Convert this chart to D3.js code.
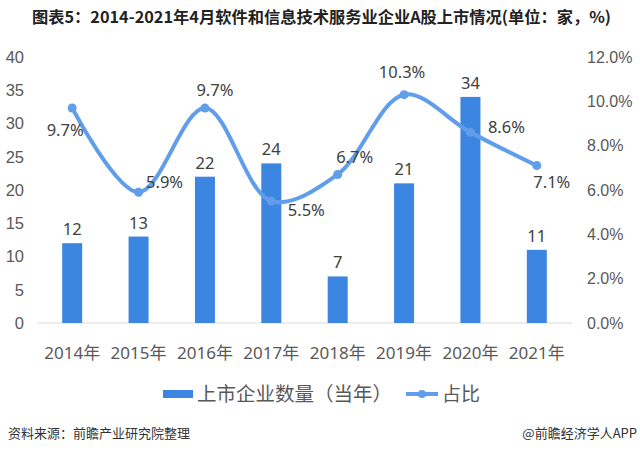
<!DOCTYPE html>
<html><head><meta charset="utf-8">
<script src="https://cdn.jsdelivr.net/npm/d3@7"></script>
<style>
body{margin:0;background:#fff;}
svg{display:block;font-family:"Noto Sans","Noto Sans CJK SC",sans-serif;}
</style></head>
<body><svg id="c" width="640" height="453"></svg>
<script>
const categories = ["2014年","2015年","2016年","2017年","2018年","2019年","2020年","2021年"];
const counts = [12, 13, 22, 24, 7, 21, 34, 11];
const shares = [9.7, 5.9, 9.7, 5.5, 6.7, 10.3, 8.6, 7.1];
const leftTicks = [0, 5, 10, 15, 20, 25, 30, 35, 40];
const rightTicks = [0, 2, 4, 6, 8, 10, 12];
const labelOffsets = [[-7,22],[26,-10],[10,-18],[35,9],[17,-17],[-2,-22],[36,-5],[15,17]];

const svg = d3.select("#c");
const barColor = "#3c85e0", lineColor = "#609dea", txt = "#404040", axisTxt = "#595959";

svg.append("text").attr("x", 32).attr("y", 23)
  .attr("font-family", "'Noto Sans CJK SC',sans-serif").attr("font-weight", "bold")
  .attr("font-size", 16).attr("fill", "#222")
  .attr("textLength", 579).attr("lengthAdjust", "spacingAndGlyphs")
  .text("图表5：2014-2021年4月软件和信息技术服务业企业A股上市情况(单位：家，%)");

const x = d3.scaleBand().domain(categories).range([39, 570]).padding(0);
const y = d3.scaleLinear().domain([0, 40]).range([323, 57]);
const y2 = d3.scaleLinear().domain([0, 12]).range([323, 57]);

// baseline
svg.append("line").attr("x1", 38).attr("x2", 572).attr("y1", y(0)).attr("y2", y(0))
  .attr("stroke", "#d9d9d9").attr("stroke-width", 1);

const left = svg.append("g").attr("transform", "translate(24,0)")
  .call(d3.axisLeft(y).tickValues(leftTicks).tickSize(0).tickPadding(0));
left.select(".domain").remove();
left.selectAll("text").attr("font-size", 16.5).attr("fill", axisTxt);

const right = svg.append("g").attr("transform", "translate(587,0)")
  .call(d3.axisRight(y2).tickValues(rightTicks).tickSize(0).tickPadding(0).tickFormat(d => d.toFixed(1) + "%"));
right.select(".domain").remove();
right.selectAll("text").attr("font-size", 16).attr("fill", axisTxt);

const bottom = svg.append("g").attr("transform", `translate(0,${y(0)})`)
  .call(d3.axisBottom(x).tickSize(0).tickPadding(24));
bottom.select(".domain").remove();
bottom.selectAll("text").attr("font-size", 17).attr("fill", axisTxt)
  .attr("font-family", "'Noto Sans','Noto Sans CJK SC',sans-serif");

const bw = 20;
const cx = d => x(d) + x.bandwidth() / 2;

svg.append("g").selectAll("rect").data(counts).join("rect")
  .attr("x", (d, i) => cx(categories[i]) - bw / 2)
  .attr("y", d => y(d)).attr("width", bw).attr("height", d => y(0) - y(d))
  .attr("fill", barColor);

svg.append("g").selectAll("text").data(counts).join("text")
  .attr("x", (d, i) => cx(categories[i])).attr("y", d => y(d) - 8)
  .attr("text-anchor", "middle").attr("font-size", 16.5).attr("fill", txt)
  .text(d => d);

const line = d3.line().x((d, i) => cx(categories[i])).y(d => y2(d)).curve(d3.curveCatmullRom.alpha(0.5));
svg.append("path").datum(shares).attr("d", line).attr("fill", "none")
  .attr("stroke", lineColor).attr("stroke-width", 4).attr("stroke-linecap", "round");

svg.append("g").selectAll("circle").data(shares).join("circle")
  .attr("cx", (d, i) => cx(categories[i])).attr("cy", d => y2(d)).attr("r", 4.5)
  .attr("fill", lineColor);

svg.append("g").selectAll("text").data(shares).join("text")
  .attr("x", (d, i) => cx(categories[i]) + labelOffsets[i][0])
  .attr("y", (d, i) => y2(d) + labelOffsets[i][1])
  .attr("dy", "0.35em").attr("text-anchor", "middle").attr("font-size", 16.5).attr("fill", txt)
  .text(d => d.toFixed(1) + "%");

// legend
const lg = svg.append("g");
lg.append("rect").attr("x", 163).attr("y", 390).attr("width", 30).attr("height", 8).attr("fill", barColor);
lg.append("text").attr("x", 197).attr("y", 394).attr("dy", "0.36em").attr("font-size", 19.5)
  .attr("fill", axisTxt).attr("font-family", "'Noto Sans CJK SC',sans-serif").text("上市企业数量（当年）");
lg.append("line").attr("x1", 406).attr("x2", 438).attr("y1", 394).attr("y2", 394)
  .attr("stroke", lineColor).attr("stroke-width", 4);
lg.append("circle").attr("cx", 422).attr("cy", 394).attr("r", 4).attr("fill", lineColor);
lg.append("text").attr("x", 442).attr("y", 394).attr("dy", "0.36em").attr("font-size", 19)
  .attr("fill", axisTxt).attr("font-family", "'Noto Sans CJK SC',sans-serif").text("占比");

// footer
svg.append("text").attr("x", 8).attr("y", 433).attr("dy", "0.35em").attr("font-size", 13)
  .attr("fill", "#333").attr("font-family", "'Noto Sans CJK SC',sans-serif").text("资料来源：前瞻产业研究院整理");
svg.append("text").attr("x", 637).attr("y", 433).attr("dy", "0.35em").attr("font-size", 13)
  .attr("text-anchor", "end").attr("fill", "#333").attr("font-family", "'Noto Sans CJK SC',sans-serif").text("@前瞻经济学人APP");
</script></body></html>
